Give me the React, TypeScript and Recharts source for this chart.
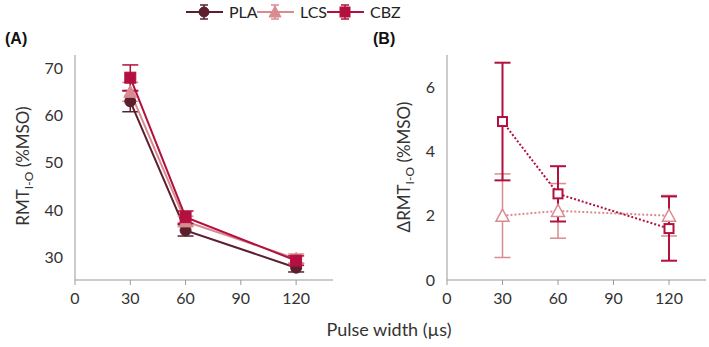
import React from 'react';
import { ComposedChart, Line, XAxis, YAxis, ErrorBar } from 'recharts';

const pulseWidths = [30, 60, 120];
const xTicks = [0, 30, 60, 90, 120];

// panel A: RMT I-O (%MSO)
const plaRmt = [63.0, 35.7, 27.8];
const plaRmtErr = [2.2, 1.2, 0.9];
const lcsRmt = [65.0, 37.6, 29.7];
const lcsRmtErr = [2.0, 1.1, 1.0];
const cbzRmt = [68.0, 38.5, 29.3];
const cbzRmtErr = [2.7, 1.3, 1.0];
const rmtTicks = [30, 40, 50, 60, 70];

// panel B: delta RMT I-O (%MSO)
const lcsDelta = [2.0, 2.15, 2.0];
const lcsDeltaErr = [1.3, 0.85, 0.63];
const cbzDelta = [4.93, 2.68, 1.6];
const cbzDeltaErr = [1.83, 0.86, 1.0];
const deltaTicks = [0, 2, 4, 6];

const seriesNames = ['PLA', 'LCS', 'CBZ'];
const seriesColors = ['#5c1f2e', '#d98b8f', '#b3103f'];
const seriesShapes = ['circle', 'triangle', 'square'];

const dataA = pulseWidths.map((x, i) => ({
  x,
  pla: plaRmt[i], plaErr: plaRmtErr[i],
  lcs: lcsRmt[i], lcsErr: lcsRmtErr[i],
  cbz: cbzRmt[i], cbzErr: cbzRmtErr[i],
}));

const dataB = pulseWidths.map((x, i) => ({
  x,
  lcs: lcsDelta[i], lcsErr: lcsDeltaErr[i],
  cbz: cbzDelta[i], cbzErr: cbzDeltaErr[i],
}));

const FONT = 'Lato, "Open Sans", sans-serif';
const TICK = { fill: '#333', fontSize: 16, fontFamily: FONT };
const AXIS = '#999';

const Marker = ({ shape, cx, cy, color, fill, size = 12, sw = 1 }: any) => {
  if (cx == null || cy == null) return null;
  const h = size / 2;
  if (shape === 'circle') return <circle cx={cx} cy={cy} r={h} fill={fill} stroke={color} strokeWidth={sw} />;
  if (shape === 'square') return <rect x={cx - h} y={cy - h} width={size} height={size} fill={fill} stroke={color} strokeWidth={sw} />;
  return (
    <polygon
      points={`${cx},${cy - h - 1} ${cx - h - 1},${cy + h} ${cx + h + 1},${cy + h}`}
      fill={fill}
      stroke={color}
      strokeWidth={sw}
    />
  );
};

const dotFor = (shape: string, color: string, hollow: boolean, size: number, sw: number) => (p: any) => (
  <Marker key={`${shape}-${p.index}`} shape={shape} cx={p.cx} cy={p.cy} color={color} fill={hollow ? '#fff' : color} size={size} sw={sw} />
);

const Legend = () => {
  const starts = [186, 257, 327];
  return (
    <svg width={420} height={28} style={{ position: 'absolute', left: 0, top: 0 }}>
      {seriesNames.map((name, i) => {
        const x0 = starts[i];
        const c = seriesColors[i];
        const mx = x0 + 18;
        return (
          <g key={name}>
            <line x1={x0} y1={12} x2={x0 + 37} y2={12} stroke={c} strokeWidth={2} />
            <line x1={mx} y1={5} x2={mx} y2={19} stroke={c} strokeWidth={1.5} />
            <line x1={mx - 4} y1={5} x2={mx + 4} y2={5} stroke={c} strokeWidth={1.5} />
            <line x1={mx - 4} y1={19} x2={mx + 4} y2={19} stroke={c} strokeWidth={1.5} />
            <Marker shape={seriesShapes[i]} cx={mx} cy={12} color={c} fill={c} size={10} />
            <text x={x0 + 43} y={17.5} fontSize={16} fontFamily={FONT} fill="#222">{name}</text>
          </g>
        );
      })}
    </svg>
  );
};

const YLabel = ({ x, y, delta }: { x: number; y: number; delta?: boolean }) => (
  <svg width={40} height={200} style={{ position: 'absolute', left: x - 20, top: y - 100, overflow: 'visible' }}>
    <text
      transform="translate(20,100) rotate(-90)"
      textAnchor="middle"
      fontSize={17}
      fontFamily={FONT}
      fill="#333"
      dy={5}
    >
      {delta ? '\u0394RMT' : 'RMT'}
      <tspan fontSize={12} dy={4}>I-O</tspan>
      <tspan dy={-4}> (%MSO)</tspan>
    </text>
  </svg>
);

export default function App() {
  return (
    <div style={{ position: 'absolute', left: 0, top: 0, width: 709, height: 347, background: '#fff', fontFamily: FONT }}>
      <div style={{ position: 'absolute', left: 0, top: 0 }}>
        <ComposedChart width={345} height={347} data={dataA} margin={{ top: 55, right: 12, bottom: 37, left: 0 }}>
          <XAxis
            dataKey="x"
            type="number"
            domain={[0, 140]}
            ticks={xTicks}
            tick={TICK}
            stroke={AXIS}
            tickSize={5}
            tickMargin={8}
            height={30}
            allowDataOverflow
          />
          <YAxis
            type="number"
            domain={[25.2, 72.8]}
            ticks={rmtTicks}
            tick={TICK}
            stroke={AXIS}
            tickLine={false}
            tickMargin={6}
            width={75}
            allowDataOverflow
          />
          {(['pla', 'lcs', 'cbz'] as const).map((k, i) => (
            <Line
              key={k}
              dataKey={k}
              stroke={seriesColors[i]}
              strokeWidth={2}
              isAnimationActive={false}
              dot={dotFor(seriesShapes[i], seriesColors[i], false, 11, 1)}
              activeDot={false}
            >
              <ErrorBar dataKey={`${k}Err`} direction="y" width={8} stroke={seriesColors[i]} strokeWidth={1.5} isAnimationActive={false} />
            </Line>
          ))}
        </ComposedChart>
      </div>
      <div style={{ position: 'absolute', left: 360, top: 0 }}>
        <ComposedChart width={349} height={347} data={dataB} margin={{ top: 55, right: 3, bottom: 37, left: 0 }}>
          <XAxis
            dataKey="x"
            type="number"
            domain={[0, 140]}
            ticks={xTicks}
            tick={TICK}
            stroke={AXIS}
            tickSize={5}
            tickMargin={8}
            height={30}
            allowDataOverflow
          />
          <YAxis
            type="number"
            domain={[0, 7]}
            ticks={deltaTicks}
            tick={TICK}
            stroke={AXIS}
            tickLine={false}
            tickMargin={6}
            width={87}
            allowDataOverflow
          />
          <Line
            dataKey="lcs"
            stroke={seriesColors[1]}
            strokeWidth={2}
            strokeDasharray="2 2"
            isAnimationActive={false}
            dot={dotFor('triangle', seriesColors[1], true, 11, 1.5)}
            activeDot={false}
          >
            <ErrorBar dataKey="lcsErr" direction="y" width={8} stroke={seriesColors[1]} strokeWidth={1.5} isAnimationActive={false} />
          </Line>
          <Line
            dataKey="cbz"
            stroke={seriesColors[2]}
            strokeWidth={2}
            strokeDasharray="2 2"
            isAnimationActive={false}
            dot={dotFor('square', seriesColors[2], true, 9, 2)}
            activeDot={false}
          >
            <ErrorBar dataKey="cbzErr" direction="y" width={8} stroke={seriesColors[2]} strokeWidth={2} isAnimationActive={false} />
          </Line>
        </ComposedChart>
      </div>
      <Legend />
      <div style={{ position: 'absolute', left: 5, top: 30, fontWeight: 'bold', fontSize: 16, fontFamily: 'Arial, sans-serif', color: '#111' }}>(A)</div>
      <div style={{ position: 'absolute', left: 373, top: 30, fontWeight: 'bold', fontSize: 16, fontFamily: 'Arial, sans-serif', color: '#111' }}>(B)</div>
      <YLabel x={24} y={166} />
      <YLabel x={405} y={167} delta />
      <div style={{ position: 'absolute', left: 0, width: 778, top: 318, textAlign: 'center', fontSize: 18, fontFamily: FONT, color: '#333' }}>
        Pulse width (µs)
      </div>
    </div>
  );
}
